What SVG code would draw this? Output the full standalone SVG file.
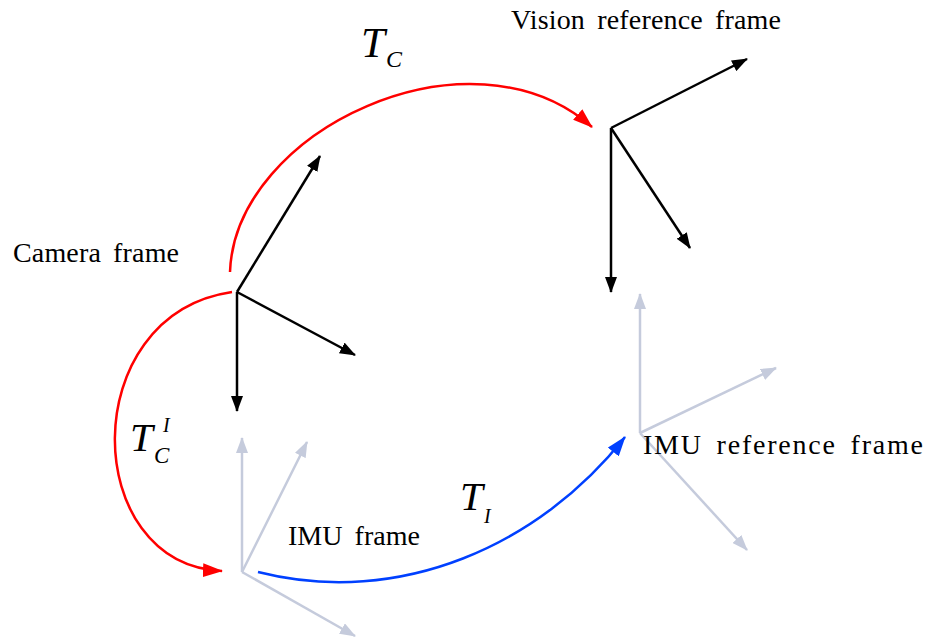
<svg xmlns="http://www.w3.org/2000/svg" width="928" height="642" viewBox="0 0 928 642">
<defs>
<marker id="ab" viewBox="0 0 16 12" refX="15" refY="6" markerWidth="16" markerHeight="12" markerUnits="userSpaceOnUse" orient="auto"><path d="M0,0 L16,6 L0,12 Z" fill="#000"/></marker>
<marker id="ag" viewBox="0 0 16 12" refX="15" refY="6" markerWidth="16" markerHeight="12" markerUnits="userSpaceOnUse" orient="auto"><path d="M0,0 L16,6 L0,12 Z" fill="#c5cbdc"/></marker>
<marker id="ar" viewBox="0 0 20 14" refX="19" refY="7" markerWidth="20" markerHeight="14" markerUnits="userSpaceOnUse" orient="auto"><path d="M0,0 L20,7 L0,14 Z" fill="#ff0000"/></marker>
<marker id="abl" viewBox="0 0 20 14" refX="19" refY="7" markerWidth="20" markerHeight="14" markerUnits="userSpaceOnUse" orient="auto"><path d="M0,0 L20,7 L0,14 Z" fill="#0040ff"/></marker>
</defs>
<style>
.k{stroke:#000;stroke-width:2.5;fill:none;marker-end:url(#ab)}
.g{stroke:#c5cbdc;stroke-width:2.5;fill:none;marker-end:url(#ag)}
.lbl{font-family:"Liberation Serif",serif;font-size:28px;word-spacing:5px;fill:#000}
.m{font-family:"Liberation Serif",serif;font-style:italic;fill:#000}
</style>
<rect width="928" height="642" fill="#fff"/>
<g id="camera-frame">
<line class="k" x1="237" y1="292" x2="320" y2="156"/>
<line class="k" x1="237" y1="292" x2="355" y2="355"/>
<line class="k" x1="237" y1="292" x2="237" y2="411"/>
<text class="lbl" x="13" y="262" textLength="166" lengthAdjust="spacing">Camera frame</text>
</g>
<g id="vision-frame">
<line class="k" x1="611" y1="128" x2="747" y2="59"/>
<line class="k" x1="611" y1="128" x2="690" y2="248"/>
<line class="k" x1="611" y1="128" x2="611" y2="292"/>
<text class="lbl" x="511" y="29" textLength="270" lengthAdjust="spacing">Vision reference frame</text>
</g>
<g id="imu-frame">
<line class="g" x1="242" y1="572" x2="242" y2="438"/>
<line class="g" x1="242" y1="572" x2="307" y2="442"/>
<line class="g" x1="242" y1="572" x2="355" y2="636"/>
<text class="lbl" x="288" y="545" textLength="132" lengthAdjust="spacing">IMU frame</text>
</g>
<g id="imu-ref-frame">
<line class="g" x1="640" y1="433" x2="640" y2="294"/>
<line class="g" x1="640" y1="433" x2="776" y2="368"/>
<line class="g" x1="640" y1="433" x2="747" y2="550"/>
<text class="lbl" x="643" y="454" textLength="280" lengthAdjust="spacing">IMU reference frame</text>
</g>
<g id="connectors">
<path d="M230,272 C235,130 470,20 592,127" stroke="#ff0000" stroke-width="2.5" fill="none" marker-end="url(#ar)"/>
<path d="M232,292 C75,315 80,565 222,571" stroke="#ff0000" stroke-width="2.5" fill="none" marker-end="url(#ar)"/>
<path d="M258,572 C400,608 540,545 625,437" stroke="#0040ff" stroke-width="2.5" fill="none" marker-end="url(#abl)"/>
</g>
<g id="labels">
<text class="m" x="361" y="57" font-size="43">T</text><text class="m" x="386" y="67" font-size="24">C</text>
<text class="m" x="130" y="451" font-size="41">T</text><text class="m" x="154" y="463" font-size="23">C</text><text class="m" x="163" y="432" font-size="20">I</text>
<text class="m" x="460" y="510" font-size="41">T</text><text class="m" x="484" y="523" font-size="20">I</text>
</g>
</svg>
